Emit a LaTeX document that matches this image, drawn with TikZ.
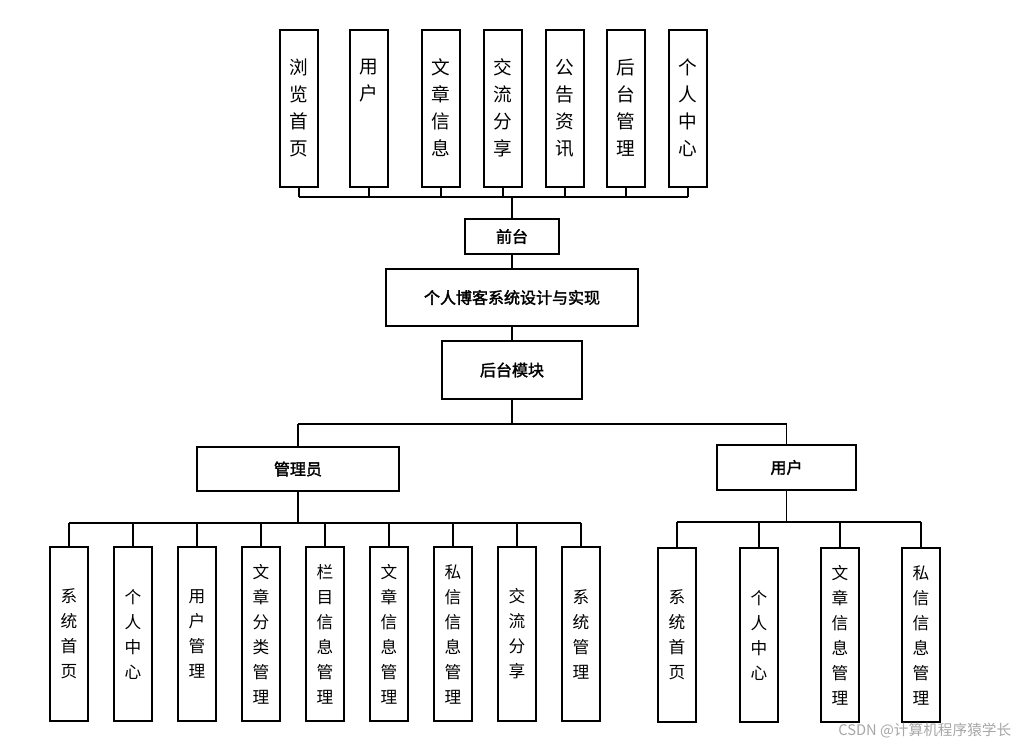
\documentclass[tikz,border=0pt]{standalone}
\usepackage{fontspec}
\setmainfont{Noto Sans CJK SC}[AutoFakeBold=2]
\begin{document}
\begin{tikzpicture}[x=0.75pt,y=-0.75pt,
  bx/.style={draw,line width=0.9pt,inner sep=0pt},
  vt/.style={align=center,font=\fontsize{14}{20.3}\selectfont},
  vb/.style={align=center,font=\fontsize{12.5}{18.75}\selectfont},
  ht/.style={font=\fontsize{12}{14}\selectfont\bfseries},
  ln/.style={line width=0.9pt}]
\useasboundingbox (0,0) rectangle (1020,749);
% top boxes
\foreach \n/\x/\t in {t1/280/浏\\览\\首\\页, t2/350/用\\户, t3/422/文\\章\\信\\息, t4/484/交\\流\\分\\享, t5/546/公\\告\\资\\讯, t6/607/后\\台\\管\\理, t7/669/个\\人\\中\\心}{
  \draw[bx] (\x,30) rectangle (\x+38,187);
  \coordinate (\n) at (\x+19,187);
}
\node[vt] at (299,108) {浏\\览\\首\\页};
\node[vt] at (369,81) {用\\户};
\node[vt] at (441,108) {文\\章\\信\\息};
\node[vt] at (503,108) {交\\流\\分\\享};
\node[vt] at (565,108) {公\\告\\资\\讯};
\node[vt] at (626,108) {后\\台\\管\\理};
\node[vt] at (688,108) {个\\人\\中\\心};
\foreach \n in {t1,t2,t3,t4,t5,t6,t7} \draw[ln] (\n) -- (\n |- 0,197);
\draw[ln] (299,197) -- (688,197);
\node[bx,minimum width=94*0.75pt,minimum height=35*0.75pt,ht] (qt) at (512,236.5) {前台};
\draw[ln] (512,197) -- (qt.north);
\node[bx,minimum width=252*0.75pt,minimum height=57*0.75pt,ht] (main) at (512,297.5) {个人博客系统设计与实现};
\draw[ln] (qt) -- (main);
\node[bx,minimum width=140*0.75pt,minimum height=58*0.75pt,ht] (ht) at (512,370) {后台模块};
\draw[ln] (main) -- (ht);
\node[bx,minimum width=202*0.75pt,minimum height=44*0.75pt,ht] (adm) at (298,469) {管理员};
\node[bx,minimum width=139*0.75pt,minimum height=45*0.75pt,ht] (usr) at (786.5,467.5) {用户};
\draw[ln] (ht.south) -- (512,424) (298,424) -- (786.5,424);
\draw[ln] (298,424) -- (adm.north) (786.5,424) -- (usr.north);
% admin children
\draw[ln] (adm.south) -- (298,523) (69,523) -- (581,523);
\foreach \x/\t in {50/系\\统\\首\\页, 114/个\\人\\中\\心, 178/用\\户\\管\\理, 242/文\\章\\分\\类\\管\\理, 306/栏\\目\\信\\息\\管\\理, 370/文\\章\\信\\息\\管\\理, 434/私\\信\\信\\息\\管\\理, 498/交\\流\\分\\享, 562/系\\统\\管\\理}{
  \node[bx,minimum width=38*0.75pt,minimum height=174*0.75pt] (b\x) at (\x+19,634) {};
  \node[vb] at (b\x) {\t};
  \draw[ln] (\x+19,523) -- (b\x.north);
}
% user children
\draw[ln] (usr.south) -- (786.5,522) (677,522) -- (921,522);
\foreach \x/\t in {658/系\\统\\首\\页, 740/个\\人\\中\\心, 821/文\\章\\信\\息\\管\\理, 902/私\\信\\信\\息\\管\\理}{
  \node[bx,minimum width=38*0.75pt,minimum height=174*0.75pt] (u\x) at (\x+19,635) {};
  \node[vb] at (u\x) {\t};
  \draw[ln] (\x+19,522) -- (u\x.north);
}
\node[anchor=east,text=black!35,font=\fontsize{11}{13}\selectfont] (wm) at (1016,731) {CSDN @计算机程序猿学长};
\end{tikzpicture}
\end{document}
